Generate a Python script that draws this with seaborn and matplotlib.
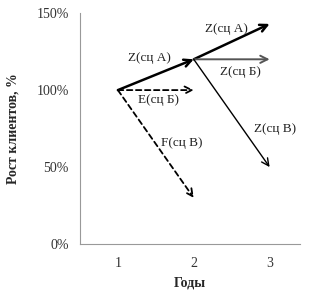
import matplotlib
matplotlib.use("Agg")
import matplotlib.pyplot as plt
import seaborn as sns

# ----------------------------------------------------------
# Data
# ----------------------------------------------------------

years = [1, 2, 3]
y_ticks = [0, 50, 100, 150]
y_tick_labels = ["0%", "50%", "100%", "150%"]

# scenario A: base year -> year 2 -> year 3
z_a = [100, 120, 143]
# scenario B (Б) from year 2
z_b = [120, 120]
# scenario C (В) from year 2
z_v = [120, 50]
# E / F scenarios from year 1
e_b = [100, 100]
f_v = [100, 30]

labels = ["Z(сц А)", "Z(сц А)", "Z(сц Б)", "E(сц Б)", "F(сц В)", "Z(сц В)"]
label_x = [1.41, 2.43, 2.61, 1.53, 1.84, 3.07]
label_y = [121, 140, 112, 93.5, 65.5, 75]

# ----------------------------------------------------------
# Style
# ----------------------------------------------------------

sns.set_style("white")
plt.rcParams["font.family"] = ["Liberation Serif", "DejaVu Serif"]

fig = plt.figure(figsize=(3.25, 2.98), dpi=100)
ax = fig.add_axes([0.246, 0.181, 0.677, 0.775])


def arrow(x0, y0, x1, y1, lw=1.0, ls="-", color="black"):
    ax.annotate("", xy=(x1, y1), xytext=(x0, y0),
                arrowprops=dict(arrowstyle="->", lw=lw, linestyle=ls,
                                color=color, shrinkA=0, shrinkB=0,
                                mutation_scale=13))


arrow(years[0], z_a[0], years[1], z_a[1], lw=1.8)
arrow(years[1], z_a[1], years[2], z_a[2], lw=1.8)
arrow(years[1], z_b[0], years[2], z_b[1], lw=1.4, color="#555555")
arrow(years[1], z_v[0], years[2], z_v[1], lw=1.0)
arrow(years[0], e_b[0], years[1], e_b[1], lw=1.3, ls=(0, (3, 2)))
arrow(years[0], f_v[0], years[1], f_v[1], lw=1.3, ls=(0, (3, 2)))

for t, x, y in zip(labels, label_x, label_y):
    ax.text(x, y, t, fontsize=9.5, ha="center", va="center", color="#222222")

ax.set_xlim(0.5, 3.4)
ax.set_ylim(0, 150)
ax.set_xticks(years)
ax.set_yticks(y_ticks)
ax.set_yticklabels(y_tick_labels)
ax.tick_params(axis="both", labelsize=10, colors="#333333")
ax.tick_params(axis="y", length=4, pad=4, color="#999999")
ax.tick_params(axis="x", pad=9, length=2, direction="in", color="#999999")

for side in ["top", "right"]:
    ax.spines[side].set_visible(False)
for side in ["left", "bottom"]:
    ax.spines[side].set_color("#999999")
    ax.spines[side].set_linewidth(0.8)

ax.set_xlabel("Годы", fontsize=10, fontweight="bold", labelpad=5)
ax.set_ylabel("Рост клиентов, %", fontsize=10, fontweight="bold", labelpad=12)

fig.savefig("out.png", dpi=100)
